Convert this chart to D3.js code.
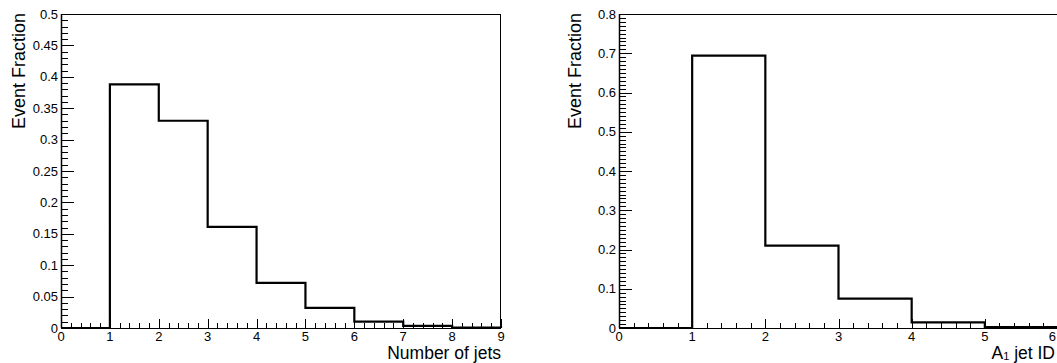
<!DOCTYPE html>
<html><head><meta charset="utf-8">
<script src="https://cdn.jsdelivr.net/npm/d3@7"></script>
<style>
html,body{margin:0;padding:0;background:#fff;overflow:hidden;}
svg{display:block;font-family:"Liberation Sans",Arial,Helvetica,sans-serif;}
</style></head>
<body>
<svg id="c" width="1057" height="363"></svg>
<script>
// Data
const binEdgesJets = [0,1,2,3,4,5,6,7,8,9];
const fracJets = [0, 0.388, 0.330, 0.161, 0.072, 0.032, 0.010, 0.0035, 0.0005];
const xTicksJets = [0,1,2,3,4,5,6,7,8,9];
const yTicksJets = [0,0.05,0.1,0.15,0.2,0.25,0.3,0.35,0.4,0.45,0.5];

const binEdgesA1 = [0,1,2,3,4,5,6];
const fracA1 = [0, 0.694, 0.210, 0.075, 0.0145, 0.002];
const xTicksA1 = [0,1,2,3,4,5,6];
const yTicksA1 = [0,0.1,0.2,0.3,0.4,0.5,0.6,0.7,0.8];

const svg = d3.select("#c");
const W = 1057;

function fmt(v){ return String(+v.toFixed(3)); }

function panel(cfg){
  const g = svg.append("g");
  const x = d3.scaleLinear().domain(cfg.xDomain).range([cfg.left, cfg.right]);
  const y = d3.scaleLinear().domain(cfg.yDomain).range([cfg.bottom, cfg.top]);

  // frame
  g.append("rect").attr("x", cfg.left+0.5).attr("y", cfg.top+0.5)
   .attr("width", cfg.right-cfg.left-1).attr("height", cfg.bottom-cfg.top)
   .attr("fill","none").attr("stroke","#000").attr("stroke-width",1);

  // x minor ticks
  const xmin = d3.range(cfg.xDomain[0], cfg.xDomain[1]+1e-9, 0.2);
  g.selectAll(null).data(xmin).enter().append("line")
   .attr("x1", d=>Math.round(x(d))+0.5).attr("x2", d=>Math.round(x(d))+0.5)
   .attr("y1", cfg.bottom).attr("y2", cfg.bottom-5)
   .attr("stroke","#000").attr("stroke-width",1);
  g.selectAll(null).data(cfg.xTicks).enter().append("line")
   .attr("x1", d=>Math.round(x(d))+0.5).attr("x2", d=>Math.round(x(d))+0.5)
   .attr("y1", cfg.bottom).attr("y2", cfg.bottom-9)
   .attr("stroke","#000").attr("stroke-width",1);
  g.selectAll(null).data(cfg.xTicks).enter().append("text")
   .attr("x", d=>Math.min(x(d), W-1)).attr("y", cfg.bottom+12.5)
   .attr("text-anchor", d=> x(d) > W-5 ? "end" : "middle")
   .attr("font-size",13).attr("fill","#000")
   .text(d=>d);

  // y minor ticks
  const ymin = d3.range(0, Math.round(cfg.yDomain[1]/0.01)+1).map(i=>i*0.01);
  g.selectAll(null).data(ymin).enter().append("line")
   .attr("x1", cfg.left).attr("x2", cfg.left+7)
   .attr("y1", d=>Math.round(y(d))+0.5).attr("y2", d=>Math.round(y(d))+0.5)
   .attr("stroke","#000").attr("stroke-width",1);
  g.selectAll(null).data(cfg.yTicks).enter().append("line")
   .attr("x1", cfg.left).attr("x2", cfg.left+13)
   .attr("y1", d=>Math.round(y(d))+0.5).attr("y2", d=>Math.round(y(d))+0.5)
   .attr("stroke","#000").attr("stroke-width",1);
  g.selectAll(null).data(cfg.yTicks).enter().append("text")
   .attr("x", cfg.left-3).attr("y", d=>y(d)+4.5)
   .attr("text-anchor","end").attr("font-size",13).attr("fill","#000")
   .text(d=>fmt(d));

  // axis line left
  g.append("line").attr("x1",cfg.left+0.5).attr("x2",cfg.left+0.5)
   .attr("y1",cfg.top).attr("y2",cfg.bottom).attr("stroke","#000").attr("stroke-width",1.5);

  // histogram
  const pts = [[cfg.edges[0],0]];
  cfg.values.forEach((v,i)=>pts.push([cfg.edges[i], v]));
  pts.push([cfg.edges[cfg.edges.length-1], 0]);
  const line = d3.line().x(d=>x(d[0])).y(d=>y(d[1])).curve(d3.curveStepAfter);
  g.append("path").attr("d", line(pts)).attr("fill","none")
   .attr("stroke","#000").attr("stroke-width",2.2).attr("stroke-linejoin","miter");

  // titles
  const xt = g.append("text").attr("x", Math.min(cfg.right, W-2)).attr("y", 359.2)
   .attr("text-anchor","end").attr("font-size",17.5).attr("fill","#000");
  cfg.xTitle(xt);
  g.append("text").attr("transform", `translate(${cfg.left-cfg.yTitleOff},${cfg.top-1}) rotate(-90)`)
   .attr("text-anchor","end").attr("font-size",18).attr("fill","#000")
   .text("Event Fraction");
}

panel({left:61, right:501, top:14, bottom:328, yTitleOff:36,
  xDomain:[0,9], yDomain:[0,0.5], xTicks:xTicksJets, yTicks:yTicksJets,
  edges:binEdgesJets, values:fracJets,
  xTitle: t=>t.text("Number of jets")});

panel({left:619, right:1058, top:14, bottom:328, yTitleOff:38,
  xDomain:[0,6], yDomain:[0,0.8], xTicks:xTicksA1, yTicks:yTicksA1,
  edges:binEdgesA1, values:fracA1,
  xTitle: t=>{ t.append("tspan").text("A");
               t.append("tspan").attr("font-size",11).attr("dy",1.2).text("1");
               t.append("tspan").attr("dy",-1.2).text(" jet ID"); }});
</script>
</body></html>
